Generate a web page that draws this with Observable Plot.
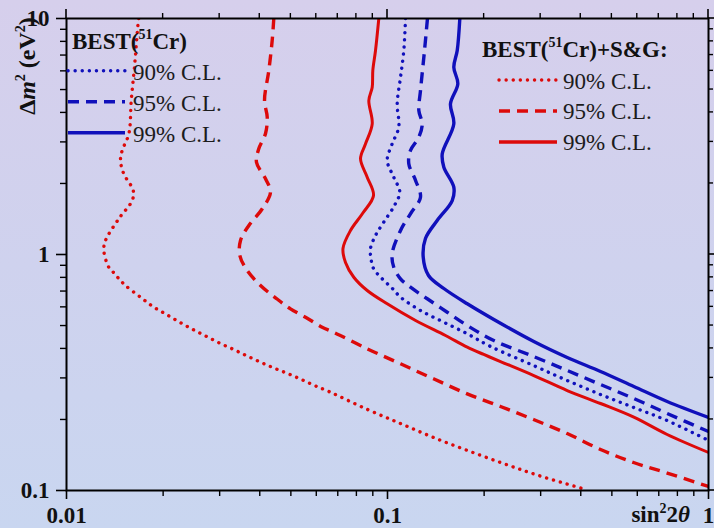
<!DOCTYPE html>
<html><head><meta charset="utf-8">
<script src="https://cdn.jsdelivr.net/npm/d3@7"></script>
<script src="https://cdn.jsdelivr.net/npm/@observablehq/plot@0.6"></script>
<style>
html,body{margin:0;padding:0;}
body{width:714px;height:528px;overflow:hidden;background:linear-gradient(to bottom,#d6cfec 0%,#cfd2ee 50%,#c9d6f0 100%);}
svg text{font-family:"Liberation Serif","Times New Roman",serif;}
</style></head>
<body><div id="chart"></div>
<script>
// ---- BEST(51Cr)+S&G contours (red) ----
const r90x=[0.0168,0.01673,0.01628,0.01591,0.01564,0.01491,0.01473,0.01508,0.01614,0.01602,0.01455,0.01323,0.01307,0.01354,0.01404,0.01463,0.0153,0.0170,0.01857,0.02049,0.02261,0.02487,0.02744,0.03018,0.03331,0.03664,0.04043,0.04446,0.04905,0.05397,0.05955,0.06563,0.0866,0.1098,0.1391,0.1776,0.2298,0.2954,0.414];
const r90y=[10,9.645,6.217,4.492,3.246,2.759,2.502,2.197,1.867,1.693,1.417,1.146,1.040,0.8835,0.8365,0.7836,0.7369,0.6594,0.6021,0.5568,0.5149,0.4796,0.4479,0.4196,0.3947,0.3708,0.3486,0.3297,0.3123,0.2953,0.2777,0.2627,0.2204,0.1922,0.1677,0.1477,0.1301,0.1158,0.101];
const r95x=[0.04424,0.04373,0.04268,0.04139,0.0422,0.04169,0.03972,0.03907,0.04169,0.0432,0.04072,0.03699,0.03484,0.03467,0.03656,0.04022,0.04478,0.04986,0.05621,0.06259,0.06788,0.08646,0.1098,0.1391,0.1772,0.2249,0.285,0.3629,0.4609,0.584,0.7433,1.0];
const r95y=[10,8.07,6.022,4.492,3.817,3.256,2.805,2.461,2.093,1.837,1.562,1.327,1.146,0.9903,0.8555,0.7386,0.6555,0.5886,0.5371,0.4919,0.4686,0.3985,0.3442,0.2974,0.2568,0.227,0.1999,0.1743,0.1492,0.1314,0.1186,0.104];
const r99x=[0.09396,0.09176,0.09001,0.08962,0.08747,0.08962,0.08542,0.0824,0.08646,0.09046,0.08359,0.07668,0.07267,0.07399,0.07852,0.08646,0.09979,0.1223,0.1516,0.1772,0.1995,0.2249,0.2856,0.3629,0.4609,0.5852,0.7433,1.0];
const r99y=[10,7.317,6.022,5.115,4.492,3.579,2.945,2.544,2.126,1.778,1.492,1.264,1.06,0.925,0.8012,0.7037,0.6181,0.5252,0.4536,0.4048,0.377,0.352,0.3071,0.2652,0.2337,0.2045,0.1727,0.1449];
// ---- BEST(51Cr) contours (blue) ----
const b90x=[0.1138,0.1124,0.1098,0.1072,0.1084,0.1034,0.09979,0.1046,0.1092,0.1051,0.09716,0.09176,0.08851,0.08883,0.09046,0.09627,0.1036,0.1098,0.1267,0.1498,0.1772,0.2094,0.285,0.3629,0.4609,0.5852,0.7433,1.0];
const b90y=[10,7.317,5.64,4.351,3.462,2.945,2.502,2.126,1.837,1.613,1.366,1.204,1.06,0.9618,0.8723,0.7889,0.7176,0.6594,0.579,0.5163,0.4613,0.4076,0.3385,0.2925,0.2551,0.2247,0.1979,0.1629];
const b95x=[0.1332,0.1304,0.1267,0.1252,0.1283,0.1252,0.1179,0.1165,0.1223,0.1267,0.1179,0.1098,0.1034,0.1046,0.1098,0.1179,0.133,0.1535,0.1772,0.2144,0.285,0.3629,0.4609,0.5852,0.7433,1.0];
const b95y=[10,7.317,4.953,4.075,3.579,3.141,2.759,2.423,2.059,1.749,1.488,1.264,1.007,0.8835,0.7889,0.7268,0.6492,0.5694,0.5002,0.432,0.3697,0.3225,0.2812,0.2454,0.212,0.1778];
const b99x=[0.168,0.1649,0.1609,0.1656,0.1571,0.1609,0.1481,0.1498,0.1609,0.1591,0.1428,0.1313,0.1292,0.1342,0.1498,0.1772,0.2144,0.2856,0.3629,0.4609,0.5852,0.7433,1.0];
const b99y=[10,7.317,6.217,5.287,4.351,3.579,2.671,2.344,1.929,1.693,1.393,1.169,0.974,0.8147,0.7176,0.6181,0.5303,0.4278,0.3661,0.3193,0.2759,0.2383,0.2039];

// ---- ticks ----
const xMajor=[0.01,0.1,1];
const xMajorLabels=["0.01","0.1","1"];
const xMinor=[0.02,0.03,0.04,0.05,0.06,0.07,0.08,0.09,0.2,0.3,0.4,0.5,0.6,0.7,0.8,0.9];
const yMajor=[0.1,1,10];
const yMajorLabels=["0.1","1","10"];
const yMinor=[0.2,0.3,0.4,0.5,0.6,0.7,0.8,0.9,2,3,4,5,6,7,8,9];

const RED="#dd0a0a", BLUE="#1010bb";
const DOT="0.1 7", DASH="11 7";

const rows=(xs,ys)=>xs.map((x,i)=>({x,y:ys[i]}));
const lineStyle=(color,dash,w)=>({x:"x",y:"y",stroke:color,strokeWidth:w,strokeDasharray:dash,strokeLinecap:dash===DOT?"round":"butt",curve:"catmull-rom",clip:true});

const fmtX=d=>xMajorLabels[xMajor.indexOf(d)];
const fmtY=d=>yMajorLabels[yMajor.indexOf(d)];
const txt={fontFamily:"Liberation Serif, serif",fontWeight:"bold",fontSize:23,fill:"#111"};

const chart=Plot.plot({
  width:714,height:528,
  marginLeft:66,marginRight:6,marginTop:18,marginBottom:38,
  style:{background:"transparent",fontFamily:"Liberation Serif, serif"},
  x:{type:"log",domain:[0.01,1],axis:null},
  y:{type:"log",domain:[0.1,10],axis:null},
  marks:[
    Plot.line(rows(r90x,r90y),lineStyle(RED,DOT,3.4)),
    Plot.line(rows(r95x,r95y),lineStyle(RED,DASH,3.4)),
    Plot.line(rows(r99x,r99y),lineStyle(RED,null,3)),
    Plot.line(rows(b90x,b90y),lineStyle(BLUE,DOT,3.4)),
    Plot.line(rows(b95x,b95y),lineStyle(BLUE,DASH,3.4)),
    Plot.line(rows(b99x,b99y),lineStyle(BLUE,null,3.4)),
    Plot.axisX(xMajor,{anchor:"bottom",tickSize:9,tickPadding:7,tickFormat:fmtX,strokeWidth:1.6,stroke:"#000",label:null,...txt}),
    Plot.axisX(xMinor,{anchor:"bottom",tickSize:6,tickFormat:()=>"",strokeWidth:1.4,stroke:"#000",label:null}),
    Plot.axisY(yMajor,{anchor:"left",tickSize:10,tickPadding:7,tickFormat:fmtY,strokeWidth:1.6,stroke:"#000",label:null,...txt}),
    Plot.axisY(yMinor,{anchor:"left",tickSize:6,tickFormat:()=>"",strokeWidth:1.4,stroke:"#000",label:null}),
    Plot.frame({stroke:"#000",strokeWidth:2})
  ]
});
document.getElementById("chart").appendChild(chart);

const svg=d3.select(chart);
const ff="Liberation Serif, serif";
const sx=chart.scale("x"), sy=chart.scale("y");
const yTop=Math.min(...sy.range);
const xRight=Math.max(...sx.range);

// top and right outward ticks, placed through the plot's scales
const tg=svg.append("g").attr("stroke","#000");
xMajor.forEach(v=>tg.append("line").attr("x1",sx.apply(v)).attr("x2",sx.apply(v)).attr("y1",yTop).attr("y2",yTop-9).attr("stroke-width",1.6));
xMinor.forEach(v=>tg.append("line").attr("x1",sx.apply(v)).attr("x2",sx.apply(v)).attr("y1",yTop).attr("y2",yTop-5).attr("stroke-width",1.4));
yMajor.forEach(v=>tg.append("line").attr("y1",sy.apply(v)).attr("y2",sy.apply(v)).attr("x1",xRight).attr("x2",xRight+6).attr("stroke-width",1.6));
yMinor.forEach(v=>tg.append("line").attr("y1",sy.apply(v)).attr("y2",sy.apply(v)).attr("x1",xRight).attr("x2",xRight+5).attr("stroke-width",1.4));

// y-axis title
const yt=svg.append("text").attr("transform","translate(35,66) rotate(-90)")
  .attr("text-anchor","middle").attr("font-family",ff).attr("font-weight","bold")
  .attr("font-size",24).attr("fill","#111");
yt.append("tspan").text("Δ");
yt.append("tspan").attr("font-style","italic").text("m");
yt.append("tspan").attr("font-size",14).attr("dy",-10).text("2");
yt.append("tspan").attr("dy",10).text(" (eV");
yt.append("tspan").attr("font-size",14).attr("dy",-10).text("2");
yt.append("tspan").attr("dy",10).text(")");

// x-axis title
const xt=svg.append("text").attr("x",690).attr("y",522).attr("text-anchor","end")
  .attr("font-family",ff).attr("font-weight","bold").attr("font-size",23).attr("fill","#111");
xt.append("tspan").text("sin");
xt.append("tspan").attr("font-size",14).attr("dy",-9).text("2");
xt.append("tspan").attr("dy",9).text("2");
xt.append("tspan").attr("font-style","italic").text("θ");

// legends
function title(x,y,rest){
  const t=svg.append("text").attr("x",x).attr("y",y).attr("text-anchor","start").attr("font-family",ff).attr("font-weight","bold")
    .attr("font-size",23).attr("fill","#111");
  t.append("tspan").text("BEST(");
  t.append("tspan").attr("font-size",14).attr("dy",-10).text("51");
  t.append("tspan").attr("dy",10).text("Cr)"+rest);
}
function entry(x1,x2,ly,tx,ty,color,dash,label){
  svg.append("line").attr("x1",x1).attr("x2",x2).attr("y1",ly).attr("y2",ly)
    .attr("stroke",color).attr("stroke-width",3.4).attr("stroke-dasharray",dash)
    .attr("stroke-linecap",dash===DOT?"round":"butt");
  svg.append("text").attr("x",tx).attr("y",ty).attr("text-anchor","start").attr("font-family",ff).attr("font-size",23)
    .attr("fill","#1c1c1c").text(label);
}
title(72,49,"");
entry(68,125,70.7,133,80,BLUE,DOT,"90% C.L.");
entry(68,125,101.7,133,111,BLUE,DASH,"95% C.L.");
entry(68,125,132.7,133,142,BLUE,null,"99% C.L.");
title(482,57,"+S&G:");
entry(499,557,80,563,88.5,RED,DOT,"90% C.L.");
entry(499,557,111,563,119,RED,DASH,"95% C.L.");
entry(499,557,142,563,150,RED,null,"99% C.L.");
</script></body></html>
